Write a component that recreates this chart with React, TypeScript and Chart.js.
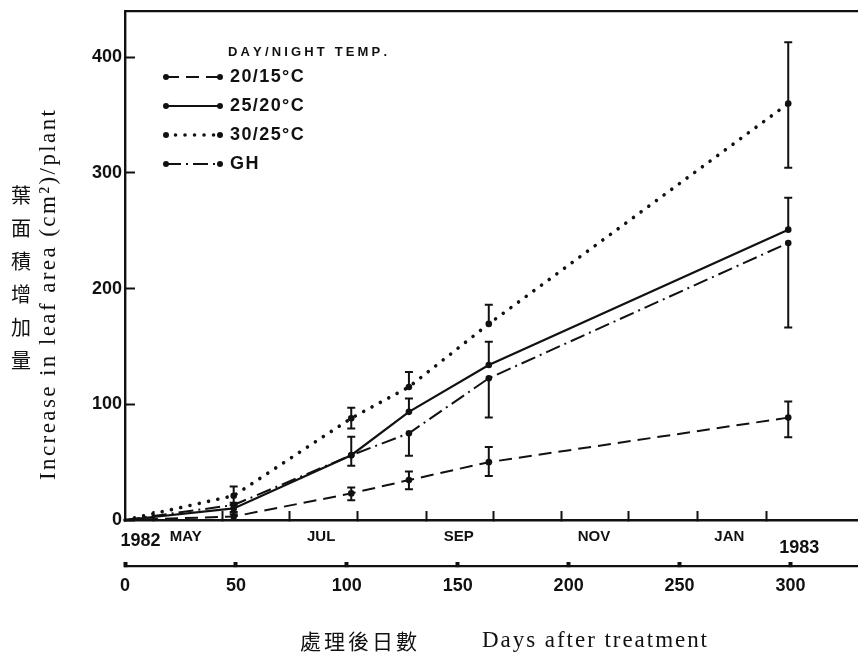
import React, { useEffect, useRef } from 'react';
import { Chart, registerables } from 'chart.js';

Chart.register(...registerables);

// ---- data ----
const days = [0, 49, 102, 128, 164, 299];

const temp20_15 = [0, 3, 23, 34.5, 50, 88.5];
const temp20_15Up = [0, 4, 5, 7.5, 13, 14];
const temp20_15Down = [0, 0, 6, 8, 12, 17];

const temp25_20 = [0, 10, 56, 93.5, 134, 251];
const temp25_20Up = [0, 5, 16, 11.5, 20, 27.5];
const temp25_20Down = [0, 5, 9, 0, 0, 0];

const temp30_25 = [0, 21, 88, 115, 169.5, 360];
const temp30_25Up = [0, 8, 9, 13, 16.5, 53];
const temp30_25Down = [0, 8, 9, 0, 0, 55.5];

const ghValues = [0, 13, 56, 75, 122.5, 239.5];
const ghUp = [0, 0, 0, 0, 0, 0];
const ghDown = [0, 0, 0, 19.5, 34, 73];

const seriesNames = ['20/15°C', '25/20°C', '30/25°C', 'GH'];
const legendTitle = 'DAY/NIGHT TEMP.';

const xTickValues = [0, 50, 100, 150, 200, 250, 300];
const yTickValues = [0, 100, 200, 300, 400];
const monthTickDays = [13, 44, 74, 105, 136, 166, 197, 227, 258, 289];
const monthTickLabels = ['MAY', '', 'JUL', '', 'SEP', '', 'NOV', '', 'JAN', ''];
const yearLabels = ['1982', '1983'];
const yearLabelDays = [7, 304];

const yTitleEn = 'Increase in leaf area (cm²)/plant';
const yTitleZh = '葉面積增加量';
const xTitleZh = '處理後日數';
const xTitleEn = 'Days after treatment';

const INK = '#111';
const SANS = "'Liberation Sans', Arial, sans-serif";
const SERIF = "'Liberation Serif', 'Times New Roman', serif";
const CJK = "'Noto Sans CJK TC', 'Noto Sans CJK SC', sans-serif";

function drawSpaced(ctx: CanvasRenderingContext2D, text: string, x: number, y: number, targetWidth: number | null, spacing = 0) {
  const chars = Array.from(text);
  const widths = chars.map((c) => ctx.measureText(c).width);
  const total = widths.reduce((a, b) => a + b, 0);
  const sp = targetWidth != null && chars.length > 1 ? (targetWidth - total) / (chars.length - 1) : spacing;
  let cx = x;
  ctx.textAlign = 'left';
  chars.forEach((c, i) => {
    ctx.fillText(c, cx, y);
    cx += widths[i] + sp;
  });
}

const errors = [
  { up: temp20_15Up, down: temp20_15Down, vals: temp20_15 },
  { up: temp25_20Up, down: temp25_20Down, vals: temp25_20 },
  { up: temp30_25Up, down: temp30_25Down, vals: temp30_25 },
  { up: ghUp, down: ghDown, vals: ghValues },
];

const zeroPad = (s: any) => {
  s.paddingTop = 0;
  s.paddingBottom = 0;
  s.paddingLeft = 0;
  s.paddingRight = 0;
};

const decorPlugin = {
  id: 'decor',
  afterDatasetsDraw(chart: any) {
    const ctx: CanvasRenderingContext2D = chart.ctx;
    const xs = chart.scales.x;
    const ys = chart.scales.y;
    ctx.save();
    ctx.strokeStyle = INK;
    ctx.lineWidth = 2;
    ctx.setLineDash([]);
    errors.forEach((e) => {
      days.forEach((d, i) => {
        const px = xs.getPixelForValue(d);
        const py = ys.getPixelForValue(e.vals[i]);
        const segs: number[] = [];
        if (e.up[i] > 0) segs.push(e.vals[i] + e.up[i]);
        if (e.down[i] > 0) segs.push(e.vals[i] - e.down[i]);
        segs.forEach((v) => {
          const ey = ys.getPixelForValue(v);
          ctx.beginPath();
          ctx.moveTo(px, py);
          ctx.lineTo(px, ey);
          ctx.moveTo(px - 4, ey);
          ctx.lineTo(px + 4, ey);
          ctx.stroke();
        });
      });
    });
    ctx.restore();
  },
  afterDraw(chart: any) {
    const ctx: CanvasRenderingContext2D = chart.ctx;
    const xm = chart.scales.xm;
    ctx.save();
    ctx.fillStyle = INK;
    ctx.strokeStyle = INK;

    // year labels
    ctx.font = `bold 18px ${SANS}`;
    ctx.textAlign = 'center';
    ctx.textBaseline = 'middle';
    const yearY = [541, 548];
    yearLabels.forEach((t, i) => {
      ctx.fillText(t, xm.getPixelForValue(yearLabelDays[i]), yearY[i]);
    });

    // y titles
    ctx.font = `20px ${CJK}`;
    ctx.textAlign = 'center';
    ctx.textBaseline = 'middle';
    Array.from(yTitleZh).forEach((c, i) => {
      ctx.fillText(c, 21, 195 + i * 33);
    });
    ctx.save();
    ctx.translate(55, 480);
    ctx.rotate(-Math.PI / 2);
    ctx.font = `23px ${SERIF}`;
    ctx.textBaseline = 'alphabetic';
    drawSpaced(ctx, yTitleEn, 0, 0, 370);
    ctx.restore();

    // x titles
    ctx.font = `21px ${CJK}`;
    ctx.textBaseline = 'middle';
    drawSpaced(ctx, xTitleZh, 300, 641, 117);
    ctx.font = `23px ${SERIF}`;
    ctx.textBaseline = 'alphabetic';
    drawSpaced(ctx, xTitleEn, 482, 647, 225);

    // legend
    ctx.font = `bold 13px ${SANS}`;
    ctx.textBaseline = 'middle';
    drawSpaced(ctx, legendTitle, 228, 52, 159);
    const rowY = [77, 106, 135, 164];
    chart.data.datasets.forEach((ds: any, i: number) => {
      const y = rowY[i];
      ctx.save();
      ctx.lineWidth = ds.borderWidth;
      ctx.lineCap = ds.borderCapStyle || 'butt';
      ctx.setLineDash(ds.borderDash || []);
      ctx.beginPath();
      ctx.moveTo(166, y);
      ctx.lineTo(220, y);
      ctx.stroke();
      ctx.restore();
      [166, 220].forEach((x) => {
        ctx.beginPath();
        ctx.arc(x, y, 3, 0, Math.PI * 2);
        ctx.fill();
      });
      ctx.font = `bold 18px ${SANS}`;
      ctx.textBaseline = 'middle';
      drawSpaced(ctx, seriesNames[i], 230, y, null, 1.4);
    });
    ctx.restore();
  },
};

function toPoints(vals: number[]) {
  return days.map((d, i) => ({ x: d, y: vals[i] }));
}

export default function App() {
  const ref = useRef<HTMLCanvasElement | null>(null);
  useEffect(() => {
    if (!ref.current) return;
    const pointRadius = (c: any) => (c.dataIndex === 0 ? 0 : 3.3);
    const common = {
      borderColor: INK,
      backgroundColor: INK,
      pointBackgroundColor: INK,
      pointBorderColor: INK,
      pointRadius,
      pointBorderWidth: 0,
      fill: false,
      tension: 0,
      clip: false as any,
    };
    const chart = new Chart(ref.current, {
      type: 'line',
      data: {
        datasets: [
          { ...common, label: seriesNames[0], data: toPoints(temp20_15), borderWidth: 2, borderDash: [13, 7] },
          { ...common, label: seriesNames[1], data: toPoints(temp25_20), borderWidth: 2.2, borderDash: [] },
          { ...common, label: seriesNames[2], data: toPoints(temp30_25), borderWidth: 3.6, borderDash: [0.01, 9.5], borderCapStyle: 'round' },
          { ...common, label: seriesNames[3], data: toPoints(ghValues), borderWidth: 2, borderDash: [15, 5, 2, 5] },
        ] as any,
      },
      options: {
        responsive: false,
        animation: false,
        events: [],
        layout: { padding: { top: 11, left: 0, right: 0, bottom: 0 } },
        plugins: { legend: { display: false }, tooltip: { enabled: false }, title: { display: false } },
        scales: {
          x: {
            type: 'linear',
            position: 'bottom',
            weight: 1,
            min: 0,
            max: 330,
            afterBuildTicks: (s: any) => {
              s.ticks = xTickValues.map((v) => ({ value: v }));
            },
            afterFit: (s: any) => {
              s.height = 89;
              zeroPad(s);
            },
            border: { display: true, color: INK, width: 2.2 },
            grid: { display: true, drawOnChartArea: false, drawTicks: true, tickLength: -4, tickWidth: 4, tickColor: INK },
            ticks: { color: INK, font: { family: SANS, size: 18, weight: 'bold' }, padding: 13, maxRotation: 0, autoSkip: false },
          },
          xm: {
            type: 'linear',
            position: 'bottom',
            weight: 0,
            min: 0,
            max: 330,
            afterBuildTicks: (s: any) => {
              s.ticks = monthTickDays.map((v) => ({ value: v }));
            },
            afterFit: (s: any) => {
              s.height = 46;
              zeroPad(s);
            },
            border: { display: true, color: INK, width: 2.4 },
            grid: { display: true, drawOnChartArea: false, drawTicks: true, tickLength: -9, tickWidth: 2, tickColor: INK },
            ticks: {
              color: INK,
              font: { family: SANS, size: 15, weight: 'bold' },
              padding: 17,
              labelOffset: 32,
              maxRotation: 0,
              autoSkip: false,
              callback: (_v: any, i: number) => monthTickLabels[i],
            },
          },
          xt: {
            type: 'linear',
            position: 'top',
            min: 0,
            max: 330,
            afterFit: (s: any) => {
              s.height = 0;
              zeroPad(s);
            },
            border: { display: true, color: INK, width: 2.2 },
            grid: { display: true, drawOnChartArea: false, drawTicks: false },
            ticks: { display: false },
          },
          y: {
            type: 'linear',
            position: 'left',
            min: 0,
            max: 440,
            afterBuildTicks: (s: any) => {
              s.ticks = yTickValues.map((v) => ({ value: v }));
            },
            afterFit: (s: any) => {
              s.width = 125;
              zeroPad(s);
            },
            border: { display: true, color: INK, width: 2.4 },
            grid: { display: true, drawOnChartArea: false, drawTicks: true, tickLength: -10, tickWidth: 2, tickColor: INK },
            ticks: { color: INK, font: { family: SANS, size: 18, weight: 'bold' }, padding: 13 },
          },
        },
      } as any,
      plugins: [decorPlugin],
    });
    return () => chart.destroy();
  }, []);
  return (
    <div style={{ position: 'absolute', left: 0, top: 0, width: 861, height: 655, background: '#fff' }}>
      <canvas ref={ref} width={861} height={655} style={{ display: 'block' }} />
    </div>
  );
}
